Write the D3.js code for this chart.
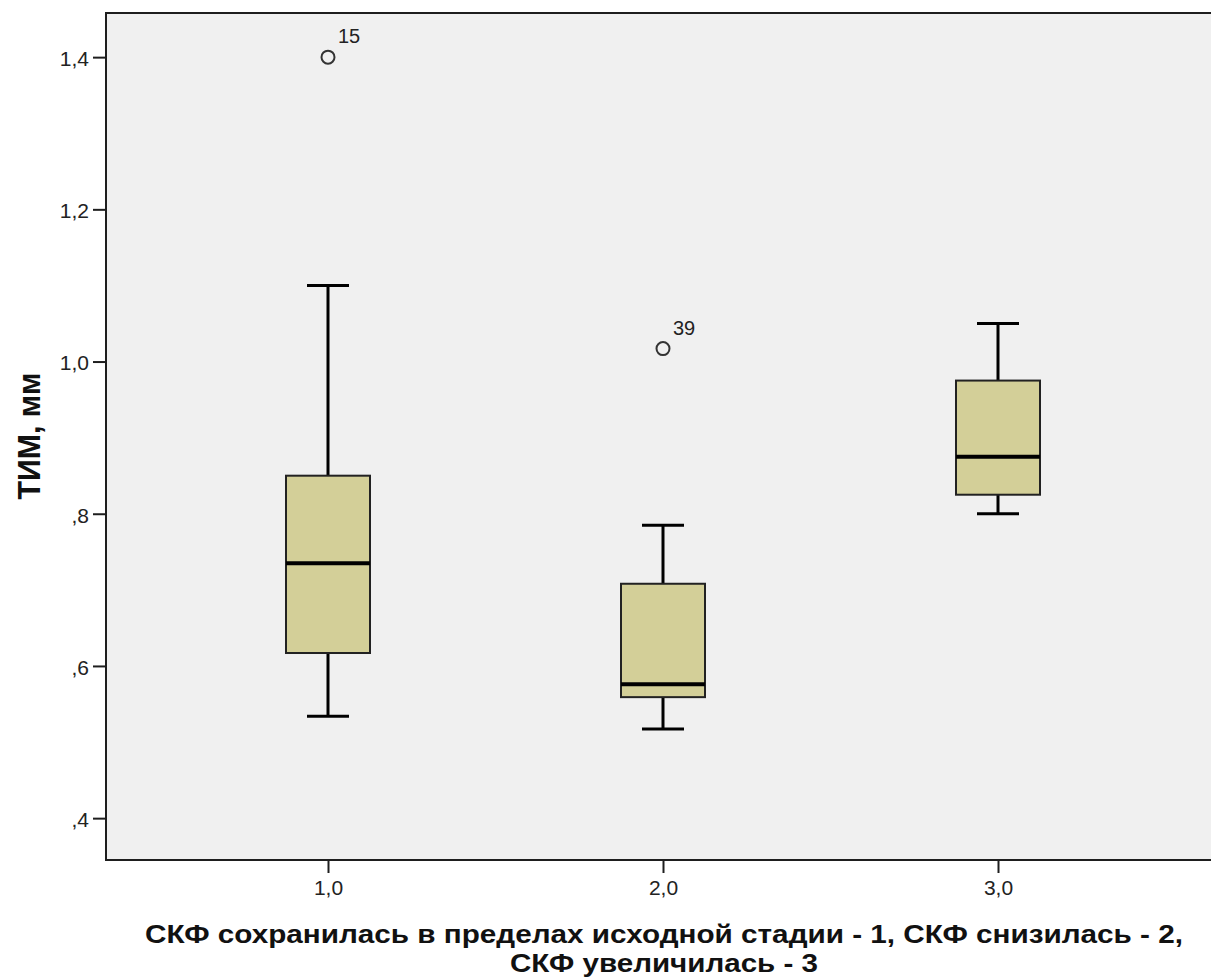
<!DOCTYPE html>
<html>
<head>
<meta charset="utf-8">
<script src="https://cdn.jsdelivr.net/npm/d3@7"></script>
<style>
  html, body { margin: 0; padding: 0; background: #ffffff; }
  svg { display: block; }
</style>
</head>
<body>
<svg id="chart" width="1211" height="980"></svg>
<script>
// Group categories and five-number summaries of ТИМ per group
const categories = ["1,0", "2,0", "3,0"];
const whiskerLow  = [0.534, 0.517, 0.800];
const q1          = [0.617, 0.559, 0.825];
const median      = [0.735, 0.576, 0.875];
const q3          = [0.850, 0.708, 0.975];
const whiskerHigh = [1.100, 0.785, 1.050];
// Outliers: group index, value, case label
const outlierGroup = [0, 1];
const outlierValue = [1.400, 1.017];
const outlierLabel = ["15", "39"];
// Y axis ticks
const yTicks = [0.4, 0.6, 0.8, 1.0, 1.2, 1.4];
const yTickLabels = [",4", ",6", ",8", "1,0", "1,2", "1,4"];

const FONT = "Liberation Sans, Arial, sans-serif";
const svg = d3.select("#chart");
const plot = { left: 106, top: 13, right: 1225, bottom: 860 };

const y = d3.scaleLinear().domain([0.345, 1.458]).range([plot.bottom, plot.top]);
const x = d3.scalePoint().domain(categories).range([328, 998]);

// Plot background and frame
svg.append("rect")
  .attr("x", plot.left).attr("y", plot.top)
  .attr("width", plot.right - plot.left).attr("height", plot.bottom - plot.top)
  .attr("fill", "#f0f0f0").attr("stroke", "#1e1e1e").attr("stroke-width", 2);

// Axes
const yAxis = d3.axisLeft(y).tickValues(yTicks)
  .tickFormat((d, i) => yTickLabels[i]).tickSize(13).tickPadding(4);
const gy = svg.append("g").attr("transform", `translate(${plot.left},0)`).call(yAxis);
gy.select(".domain").remove();
gy.selectAll(".tick line").attr("stroke", "#1e1e1e").attr("stroke-width", 2);
gy.selectAll(".tick text").attr("font-family", FONT)
  .attr("font-size", 21).attr("fill", "#222").attr("dy", "0.4em");

const xAxis = d3.axisBottom(x).tickSize(13).tickPadding(7);
const gx = svg.append("g").attr("transform", `translate(0,${plot.bottom})`).call(xAxis);
gx.select(".domain").remove();
gx.selectAll(".tick line").attr("stroke", "#1e1e1e").attr("stroke-width", 2);
gx.selectAll(".tick text").attr("font-family", FONT)
  .attr("font-size", 21).attr("fill", "#222");

// Boxes
const boxW = 84, capW = 42;
const groups = svg.append("g").selectAll("g").data(categories).join("g");
groups.each(function(c, i) {
  const g = d3.select(this);
  const cx = x(c);
  // whiskers
  g.append("line").attr("x1", cx).attr("x2", cx)
    .attr("y1", y(whiskerHigh[i])).attr("y2", y(q3[i]))
    .attr("stroke", "#000").attr("stroke-width", 3);
  g.append("line").attr("x1", cx).attr("x2", cx)
    .attr("y1", y(q1[i])).attr("y2", y(whiskerLow[i]))
    .attr("stroke", "#000").attr("stroke-width", 3);
  g.append("line").attr("x1", cx - capW / 2).attr("x2", cx + capW / 2)
    .attr("y1", y(whiskerHigh[i])).attr("y2", y(whiskerHigh[i]))
    .attr("stroke", "#000").attr("stroke-width", 3);
  g.append("line").attr("x1", cx - capW / 2).attr("x2", cx + capW / 2)
    .attr("y1", y(whiskerLow[i])).attr("y2", y(whiskerLow[i]))
    .attr("stroke", "#000").attr("stroke-width", 3);
  // box
  g.append("rect").attr("x", cx - boxW / 2).attr("y", y(q3[i]))
    .attr("width", boxW).attr("height", y(q1[i]) - y(q3[i]))
    .attr("fill", "#d3cf98").attr("stroke", "#222").attr("stroke-width", 2);
  // median
  g.append("line").attr("x1", cx - boxW / 2).attr("x2", cx + boxW / 2)
    .attr("y1", y(median[i])).attr("y2", y(median[i]))
    .attr("stroke", "#000").attr("stroke-width", 4);
});

// Outliers with case labels
outlierGroup.forEach((gi, k) => {
  const cx = x(categories[gi]), cy = y(outlierValue[k]);
  svg.append("circle").attr("cx", cx).attr("cy", cy).attr("r", 6.5)
    .attr("fill", "none").attr("stroke", "#333").attr("stroke-width", 2);
  svg.append("text").attr("x", cx + 10).attr("y", cy - 14)
    .attr("font-family", FONT).attr("font-size", 20)
    .attr("fill", "#222").text(outlierLabel[k]);
});

// Axis titles
svg.append("text")
  .attr("transform", `translate(40,436) rotate(-90)`)
  .attr("text-anchor", "middle")
  .attr("font-family", FONT).attr("font-weight", "bold")
  .attr("font-size", 31).attr("fill", "#111")
  .attr("textLength", 127).attr("lengthAdjust", "spacingAndGlyphs")
  .text("ТИМ, мм");

const xTitle = svg.append("text").attr("text-anchor", "middle")
  .attr("font-family", FONT).attr("font-weight", "bold")
  .attr("font-size", 26).attr("fill", "#111");
xTitle.append("tspan").attr("x", 664).attr("y", 943)
  .attr("textLength", 1038).attr("lengthAdjust", "spacingAndGlyphs")
  .text("СКФ сохранилась в пределах исходной стадии - 1, СКФ снизилась - 2,");
xTitle.append("tspan").attr("x", 664).attr("y", 972)
  .attr("textLength", 308).attr("lengthAdjust", "spacingAndGlyphs")
  .text("СКФ увеличилась - 3");
</script>
</body>
</html>
